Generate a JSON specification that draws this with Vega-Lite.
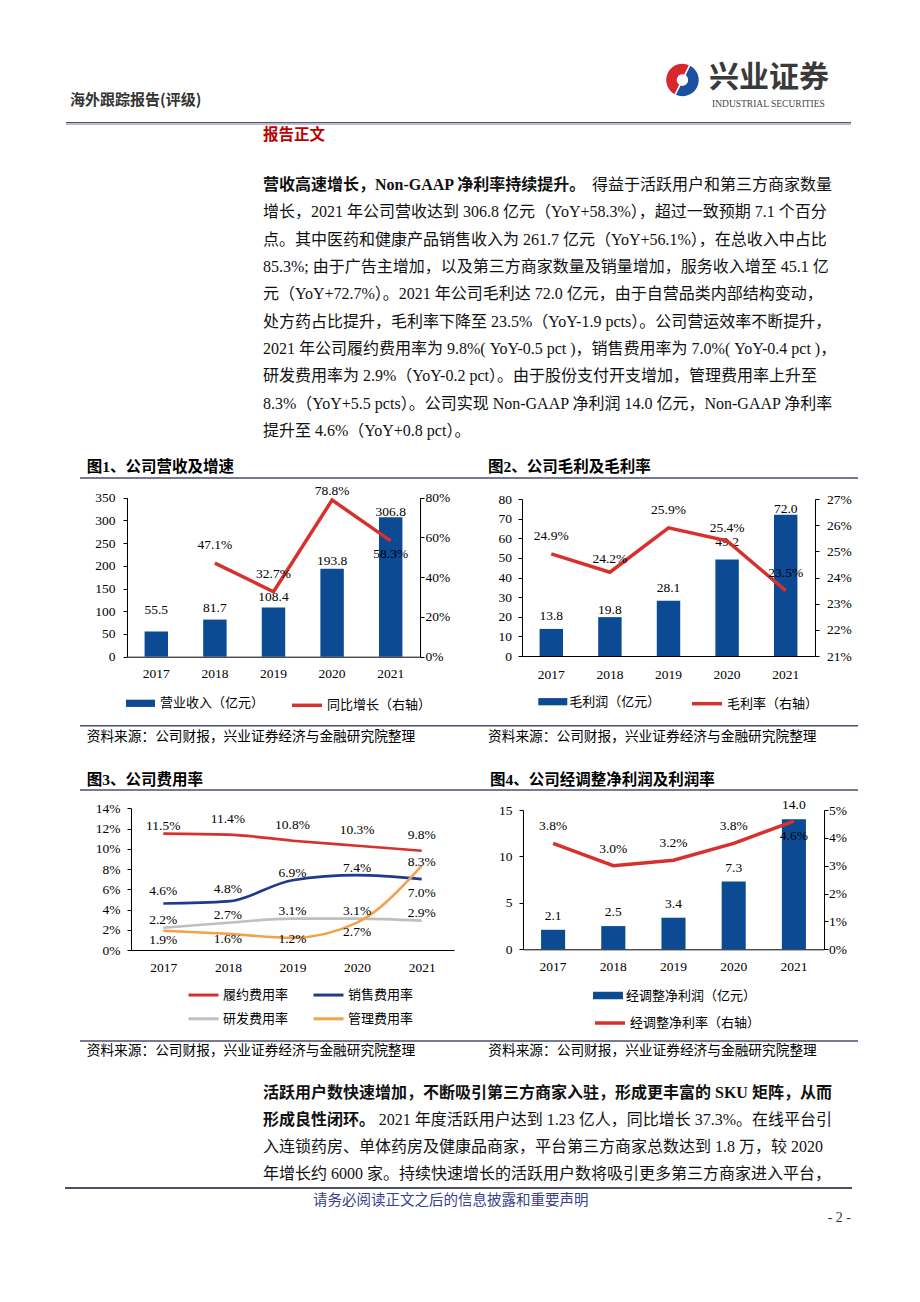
{
"$schema":"https://vega.github.io/schema/vega-lite/v6.json",
"background":"white",
"padding":0,
"spacing":0,
"bounds":"full",
"resolve":{"scale":{"fill":"independent","stroke":"independent","color":"independent"},"legend":{"fill":"independent","stroke":"independent","color":"independent"}},
"config":{
 "view":{"stroke":null},
 "axis":{"grid":false,"domainColor":"#000","tickColor":"#000","labelColor":"#000","labelFont":"Liberation Serif","labelFontSize":13.5,"tickSize":4,"domainWidth":1,"tickWidth":1},
 "legend":{"labelFont":"'Noto Sans CJK SC'","labelFontSize":13,"labelColor":"#000","padding":0}
},
"datasets":{
 "header":[{"item":"report_type","text":"海外跟踪报告(评级)"},{"item":"logo_cn","text":"兴业证券"},{"item":"logo_en","text":"INDUSTRIAL SECURITIES"},{"item":"section","text":"报告正文"}],
 "logo":[{"part":"红","share":1},{"part":"蓝","share":1}],
 "para1_lead":[{"line":0,"text":"营收高速增长，Non-GAAP 净利率持续提升。"}],
 "para1":[
  {"line":0,"text":"得益于活跃用户和第三方商家数量"},
  {"line":1,"text":"增长，2021 年公司营收达到 306.8 亿元（YoY+58.3%），超过一致预期 7.1 个百分"},
  {"line":2,"text":"点。其中医药和健康产品销售收入为 261.7 亿元（YoY+56.1%），在总收入中占比"},
  {"line":3,"text":"85.3%; 由于广告主增加，以及第三方商家数量及销量增加，服务收入增至 45.1 亿"},
  {"line":4,"text":"元（YoY+72.7%）。2021 年公司毛利达 72.0 亿元，由于自营品类内部结构变动，"},
  {"line":5,"text":"处方药占比提升，毛利率下降至 23.5%（YoY-1.9 pcts）。公司营运效率不断提升，"},
  {"line":6,"text":"2021 年公司履约费用率为 9.8%( YoY-0.5 pct )，销售费用率为 7.0%( YoY-0.4 pct )，"},
  {"line":7,"text":"研发费用率为 2.9%（YoY-0.2 pct）。由于股份支付开支增加，管理费用率上升至"},
  {"line":8,"text":"8.3%（YoY+5.5 pcts）。公司实现 Non-GAAP 净利润 14.0 亿元，Non-GAAP 净利率"},
  {"line":9,"text":"提升至 4.6%（YoY+0.8 pct）。"}
 ],
 "para2_lead":[{"line":0,"text":"活跃用户数快速增加，不断吸引第三方商家入驻，形成更丰富的 SKU 矩阵，从而"},{"line":1,"text":"形成良性闭环。"}],
 "para2":[
  {"line":1,"text":"2021 年度活跃用户达到 1.23 亿人，同比增长 37.3%。在线平台引"},
  {"line":2,"text":"入连锁药房、单体药房及健康品商家，平台第三方商家总数达到 1.8 万，较 2020"},
  {"line":3,"text":"年增长约 6000 家。持续快速增长的活跃用户数将吸引更多第三方商家进入平台，"}
 ],
 "figs":[{"fig":1,"title":"图1、公司营收及增速"},{"fig":2,"title":"图2、公司毛利及毛利率"},{"fig":3,"title":"图3、公司费用率"},{"fig":4,"title":"图4、公司经调整净利润及利润率"}],
 "source":[{"text":"资料来源：公司财报，兴业证券经济与金融研究院整理"}],
 "footer":[{"item":"notice","text":"请务必阅读正文之后的信息披露和重要声明"},{"item":"page","text":"- 2 -"}],
 "rev":[{"year":"2017","revenue":55.5,"growth":null},{"year":"2018","revenue":81.7,"growth":0.471},{"year":"2019","revenue":108.4,"growth":0.327},{"year":"2020","revenue":193.8,"growth":0.788},{"year":"2021","revenue":306.8,"growth":0.583}],
 "gp":[{"year":"2017","gross":13.8,"margin":0.249},{"year":"2018","gross":19.8,"margin":0.242},{"year":"2019","gross":28.1,"margin":0.259},{"year":"2020","gross":49.2,"margin":0.254},{"year":"2021","gross":72.0,"margin":0.235}],
 "exp":[
  {"year":"2017","item":"履约费用率","rate":0.115},{"year":"2017","item":"销售费用率","rate":0.046},{"year":"2017","item":"研发费用率","rate":0.022},{"year":"2017","item":"管理费用率","rate":0.019},
  {"year":"2018","item":"履约费用率","rate":0.114},{"year":"2018","item":"销售费用率","rate":0.048},{"year":"2018","item":"研发费用率","rate":0.027},{"year":"2018","item":"管理费用率","rate":0.016},
  {"year":"2019","item":"履约费用率","rate":0.108},{"year":"2019","item":"销售费用率","rate":0.069},{"year":"2019","item":"研发费用率","rate":0.031},{"year":"2019","item":"管理费用率","rate":0.012},
  {"year":"2020","item":"履约费用率","rate":0.103},{"year":"2020","item":"销售费用率","rate":0.074},{"year":"2020","item":"研发费用率","rate":0.031},{"year":"2020","item":"管理费用率","rate":0.027},
  {"year":"2021","item":"履约费用率","rate":0.098},{"year":"2021","item":"销售费用率","rate":0.070},{"year":"2021","item":"研发费用率","rate":0.029},{"year":"2021","item":"管理费用率","rate":0.083}
 ],
 "np":[{"year":"2017","profit":2.1,"margin":0.038},{"year":"2018","profit":2.5,"margin":0.030},{"year":"2019","profit":3.4,"margin":0.032},{"year":"2020","profit":7.3,"margin":0.038},{"year":"2021","profit":14.0,"margin":0.046}]
},
"vconcat":[
 {
  "width":920,"height":455,
  "layer":[
   {"data":{"name":"header"},"transform":[{"filter":"datum.item=='report_type'"}],
    "mark":{"type":"text","align":"left","baseline":"middle","font":"'Noto Sans CJK SC'","fontSize":15,"fontWeight":"bold","color":"#333"},
    "encoding":{"x":{"datum":70,"type":"quantitative","scale":{"domain":[0,920],"range":[0,920]},"axis":null},"y":{"datum":100,"type":"quantitative","scale":{"domain":[0,455],"range":[0,455]},"axis":null},"text":{"field":"text"}}},
   {"data":{"name":"logo"},
    "mark":{"type":"arc","outerRadius":17,"innerRadius":5,"stroke":"white","strokeWidth":1.5},
    "encoding":{"x":{"datum":682.5,"type":"quantitative","scale":{"domain":[0,920],"range":[0,920]},"axis":null},"y":{"datum":80,"type":"quantitative","scale":{"domain":[0,455],"range":[0,455]},"axis":null},
     "theta":{"field":"share","type":"quantitative","scale":{"range":[3.6,9.883]}},
     "color":{"field":"part","type":"nominal","scale":{"domain":["红","蓝"],"range":["#d7282f","#1d50a2"]},"legend":null}}},
   {"data":{"name":"header"},"transform":[{"filter":"datum.item=='logo_cn'"}],
    "mark":{"type":"text","align":"left","baseline":"middle","font":"'Noto Sans CJK SC'","fontSize":30,"fontWeight":"bold","color":"#3a3a3a"},
    "encoding":{"x":{"datum":709,"type":"quantitative","scale":{"domain":[0,920],"range":[0,920]},"axis":null},"y":{"datum":78,"type":"quantitative","scale":{"domain":[0,455],"range":[0,455]},"axis":null},"text":{"field":"text"}}},
   {"data":{"name":"header"},"transform":[{"filter":"datum.item=='logo_en'"}],
    "mark":{"type":"text","align":"left","baseline":"middle","font":"Liberation Serif","fontSize":9.5,"color":"#444"},
    "encoding":{"x":{"datum":712,"type":"quantitative","scale":{"domain":[0,920],"range":[0,920]},"axis":null},"y":{"datum":104,"type":"quantitative","scale":{"domain":[0,455],"range":[0,455]},"axis":null},"text":{"field":"text"}}},
   {"data":{"values":[{"rule":"header_dark"}]},
    "mark":{"type":"rule","color":"#55556f","strokeWidth":1.4},
    "encoding":{"x":{"datum":66,"type":"quantitative","scale":{"domain":[0,920],"range":[0,920]},"axis":null},"x2":{"datum":851},"y":{"datum":122.6,"type":"quantitative","scale":{"domain":[0,455],"range":[0,455]},"axis":null}}},
   {"data":{"values":[{"rule":"header_light"}]},
    "mark":{"type":"rule","color":"#a3a2c4","strokeWidth":1.2},
    "encoding":{"x":{"datum":66,"type":"quantitative","scale":{"domain":[0,920],"range":[0,920]},"axis":null},"x2":{"datum":851},"y":{"datum":124.1,"type":"quantitative","scale":{"domain":[0,455],"range":[0,455]},"axis":null}}},
   {"data":{"name":"header"},"transform":[{"filter":"datum.item=='section'"}],
    "mark":{"type":"text","align":"left","baseline":"middle","font":"'Noto Sans CJK SC'","fontSize":15.5,"fontWeight":"bold","color":"#c00000"},
    "encoding":{"x":{"datum":263,"type":"quantitative","scale":{"domain":[0,920],"range":[0,920]},"axis":null},"y":{"datum":135,"type":"quantitative","scale":{"domain":[0,455],"range":[0,455]},"axis":null},"text":{"field":"text"}}},
   {"data":{"name":"para1_lead"},
    "mark":{"type":"text","align":"left","baseline":"middle","font":"'Liberation Serif', 'Noto Sans CJK SC'","fontSize":16,"fontWeight":"bold","color":"#111"},
    "encoding":{"x":{"datum":263,"type":"quantitative","scale":{"domain":[0,920],"range":[0,920]},"axis":null},"y":{"field":"line","type":"quantitative","scale":{"domain":[0,9],"range":[185,431]},"axis":null},"text":{"field":"text"}}},
   {"data":{"name":"para1"},"transform":[{"filter":"datum.line != 0"}],
    "mark":{"type":"text","align":"left","baseline":"middle","font":"'Liberation Serif', 'Noto Sans CJK SC'","fontSize":16,"color":"#111"},
    "encoding":{"x":{"datum":263,"type":"quantitative","scale":{"domain":[0,920],"range":[0,920]},"axis":null},"y":{"field":"line","type":"quantitative","scale":{"domain":[0,9],"range":[185,431]},"axis":null},"text":{"field":"text"}}},
   {"data":{"name":"para1"},"transform":[{"filter":"datum.line == 0"}],
    "mark":{"type":"text","align":"right","baseline":"middle","font":"'Liberation Serif', 'Noto Sans CJK SC'","fontSize":16,"color":"#111"},
    "encoding":{"x":{"datum":832,"type":"quantitative","scale":{"domain":[0,920],"range":[0,920]},"axis":null},"y":{"field":"line","type":"quantitative","scale":{"domain":[0,9],"range":[185,431]},"axis":null},"text":{"field":"text"}}}
  ],
  "resolve":{"scale":{"y":"independent"}}
 },
 {
  "hconcat":[
   {
    "width":127,"height":295,
    "layer":[
     {"data":{"values":[{"rule":"title_rule"}]},"mark":{"type":"rule","color":"#4d4d6e","strokeWidth":1.5},
      "encoding":{"x":{"datum":80,"type":"quantitative","scale":{"domain":[0,920],"range":[0,920]},"axis":null},"x2":{"datum":858},"y":{"datum":23,"type":"quantitative","scale":{"domain":[0,295],"range":[0,295]},"axis":null}}},
     {"data":{"values":[{"rule":"source_rule"}]},"mark":{"type":"rule","color":"#4d4d6e","strokeWidth":1.5},
      "encoding":{"x":{"datum":80,"type":"quantitative","scale":{"domain":[0,920],"range":[0,920]},"axis":null},"x2":{"datum":858},"y":{"datum":270.7,"type":"quantitative","scale":{"domain":[0,295],"range":[0,295]},"axis":null}}},
     {"data":{"name":"figs"},"transform":[{"filter":"datum.fig==1"}],"mark":{"type":"text","align":"left","baseline":"middle","font":"'Liberation Serif', 'Noto Sans CJK SC'","fontSize":15.5,"fontWeight":"bold","color":"#000"},
      "encoding":{"x":{"datum":86.7,"type":"quantitative","scale":{"domain":[0,920],"range":[0,920]},"axis":null},"y":{"datum":12,"type":"quantitative","scale":{"domain":[0,295],"range":[0,295]},"axis":null},"text":{"field":"title"}}},
     {"data":{"name":"figs"},"transform":[{"filter":"datum.fig==2"}],"mark":{"type":"text","align":"left","baseline":"middle","font":"'Liberation Serif', 'Noto Sans CJK SC'","fontSize":15.5,"fontWeight":"bold","color":"#000"},
      "encoding":{"x":{"datum":488,"type":"quantitative","scale":{"domain":[0,920],"range":[0,920]},"axis":null},"y":{"datum":12,"type":"quantitative","scale":{"domain":[0,295],"range":[0,295]},"axis":null},"text":{"field":"title"}}},
     {"data":{"name":"source"},"mark":{"type":"text","align":"left","baseline":"middle","font":"'Noto Sans CJK SC'","fontSize":13.7,"color":"#000"},
      "encoding":{"x":{"datum":86.7,"type":"quantitative","scale":{"domain":[0,920],"range":[0,920]},"axis":null},"y":{"datum":281.7,"type":"quantitative","scale":{"domain":[0,295],"range":[0,295]},"axis":null},"text":{"field":"text"}}},
     {"data":{"name":"source"},"mark":{"type":"text","align":"left","baseline":"middle","font":"'Noto Sans CJK SC'","fontSize":13.7,"color":"#000"},
      "encoding":{"x":{"datum":488,"type":"quantitative","scale":{"domain":[0,920],"range":[0,920]},"axis":null},"y":{"datum":281.7,"type":"quantitative","scale":{"domain":[0,295],"range":[0,295]},"axis":null},"text":{"field":"text"}}}
    ]
   },
   {
    "width":293,"height":295,
    "data":{"name":"rev"},
    "encoding":{"x":{"field":"year","type":"ordinal","scale":{"type":"band","paddingInner":0.6,"paddingOuter":0.3},"axis":{"orient":"bottom","title":null,"offset":-93.3,"ticks":false,"labelPadding":10,"labelAngle":0}}},
    "layer":[
     {"encoding":{"y":{"field":"revenue","type":"quantitative","scale":{"domain":[0,350],"range":[201.7,42.7],"nice":false},"axis":{"orient":"left","title":null,"values":[0,50,100,150,200,250,300,350],"labelPadding":8}}},
      "layer":[
       {"mark":{"type":"bar"},"encoding":{"fill":{"datum":"营业收入（亿元）","type":"nominal","scale":{"range":["#0c4a94"]},"legend":{"title":null,"orient":"none","legendX":-1,"legendY":233.8,"symbolType":"M-1,-0.25H1V0.25H-1Z","symbolSize":841,"symbolStrokeWidth":0,"labelOffset":5}}}},
       {"transform":[{"filter":"datum.year=='2017'"}],"mark":{"type":"text","dy":-21,"font":"Liberation Serif","fontSize":13.5,"color":"#000"},"encoding":{"text":{"field":"revenue","type":"quantitative","format":".1f"}}},
       {"transform":[{"filter":"datum.year=='2018'"}],"mark":{"type":"text","dy":-12,"font":"Liberation Serif","fontSize":13.5,"color":"#000"},"encoding":{"text":{"field":"revenue","type":"quantitative","format":".1f"}}},
       {"transform":[{"filter":"datum.year=='2019'"}],"mark":{"type":"text","dy":-10,"font":"Liberation Serif","fontSize":13.5,"color":"#000"},"encoding":{"text":{"field":"revenue","type":"quantitative","format":".1f"}}},
       {"transform":[{"filter":"datum.year=='2020'"}],"mark":{"type":"text","dy":-8,"font":"Liberation Serif","fontSize":13.5,"color":"#000"},"encoding":{"text":{"field":"revenue","type":"quantitative","format":".1f"}}},
       {"transform":[{"filter":"datum.year=='2021'"}],"mark":{"type":"text","dy":-5,"font":"Liberation Serif","fontSize":13.5,"color":"#000"},"encoding":{"text":{"field":"revenue","type":"quantitative","format":".1f"}}}
      ]},
     {"transform":[{"filter":"datum.growth != null"}],
      "encoding":{"y":{"field":"growth","type":"quantitative","scale":{"domain":[0,0.8],"range":[201.7,42.7],"nice":false},"axis":{"orient":"right","title":null,"values":[0,0.2,0.4,0.6,0.8],"format":".0%","labelPadding":1}}},
      "layer":[
       {"mark":{"type":"line","strokeWidth":3.5},"encoding":{"stroke":{"datum":"同比增长（右轴）","type":"nominal","scale":{"range":["#d7312e"]},"legend":{"title":null,"orient":"none","legendX":163,"legendY":233.3,"symbolType":"stroke","symbolSize":900,"symbolStrokeWidth":3.5,"labelOffset":3}}}},
       {"transform":[{"filter":"datum.year=='2018' || datum.year=='2019'"}],"mark":{"type":"text","dy":-18,"font":"Liberation Serif","fontSize":13.5,"color":"#000"},"encoding":{"text":{"field":"growth","type":"quantitative","format":".1%"}}},
       {"transform":[{"filter":"datum.year=='2020'"}],"mark":{"type":"text","dy":-9,"font":"Liberation Serif","fontSize":13.5,"color":"#000"},"encoding":{"text":{"field":"growth","type":"quantitative","format":".1%"}}},
       {"transform":[{"filter":"datum.year=='2021'"}],"mark":{"type":"text","dy":13,"font":"Liberation Serif","fontSize":13.5,"color":"#000"},"encoding":{"text":{"field":"growth","type":"quantitative","format":".1%"}}}
      ]}
    ],
    "resolve":{"scale":{"y":"independent"}}
   },
   {"width":102,"height":295,"data":{"values":[]},"mark":"point"},
   {
    "width":293,"height":295,
    "data":{"name":"gp"},
    "encoding":{"x":{"field":"year","type":"ordinal","scale":{"type":"band","paddingInner":0.6,"paddingOuter":0.3},"axis":{"orient":"bottom","title":null,"offset":-94,"ticks":false,"labelPadding":11,"labelAngle":0}}},
    "layer":[
     {"encoding":{"y":{"field":"gross","type":"quantitative","scale":{"domain":[0,80],"range":[201,44],"nice":false},"axis":{"orient":"left","title":null,"values":[0,10,20,30,40,50,60,70,80],"labelPadding":6.5}}},
      "layer":[
       {"mark":{"type":"bar"},"encoding":{"fill":{"datum":"毛利润（亿元）","type":"nominal","scale":{"range":["#0c4a94"]},"legend":{"title":null,"orient":"none","legendX":16.3,"legendY":232.2,"symbolType":"M-1,-0.25H1V0.25H-1Z","symbolSize":841,"symbolStrokeWidth":0,"labelOffset":2}}}},
       {"transform":[{"filter":"datum.year=='2017' || datum.year=='2019'"}],"mark":{"type":"text","dy":-12.5,"font":"Liberation Serif","fontSize":13.5,"color":"#000"},"encoding":{"text":{"field":"gross","type":"quantitative","format":".1f"}}},
       {"transform":[{"filter":"datum.year=='2018'"}],"mark":{"type":"text","dy":-7,"font":"Liberation Serif","fontSize":13.5,"color":"#000"},"encoding":{"text":{"field":"gross","type":"quantitative","format":".1f"}}},
       {"transform":[{"filter":"datum.year=='2020'"}],"mark":{"type":"text","dy":-17,"font":"Liberation Serif","fontSize":13.5,"color":"#000"},"encoding":{"text":{"field":"gross","type":"quantitative","format":".1f"}}},
       {"transform":[{"filter":"datum.year=='2021'"}],"mark":{"type":"text","dy":-6,"font":"Liberation Serif","fontSize":13.5,"color":"#000"},"encoding":{"text":{"field":"gross","type":"quantitative","format":".1f"}}}
      ]},
     {"encoding":{"y":{"field":"margin","type":"quantitative","scale":{"domain":[0.21,0.27],"range":[201,44],"nice":false,"zero":false},"axis":{"orient":"right","title":null,"values":[0.21,0.22,0.23,0.24,0.25,0.26,0.27],"format":".0%","labelPadding":7.5}}},
      "layer":[
       {"mark":{"type":"line","strokeWidth":3.5},"encoding":{"stroke":{"datum":"毛利率（右轴）","type":"nominal","scale":{"range":["#d7312e"]},"legend":{"title":null,"orient":"none","legendX":168,"legendY":231.7,"symbolType":"stroke","symbolSize":900,"symbolStrokeWidth":3.5,"labelOffset":3}}}},
       {"transform":[{"filter":"datum.year=='2017' || datum.year=='2019' || datum.year=='2021'"}],"mark":{"type":"text","dy":-18,"font":"Liberation Serif","fontSize":13.5,"color":"#000"},"encoding":{"text":{"field":"margin","type":"quantitative","format":".1%"}}},
       {"transform":[{"filter":"datum.year=='2018' || datum.year=='2020'"}],"mark":{"type":"text","dy":-13,"font":"Liberation Serif","fontSize":13.5,"color":"#000"},"encoding":{"text":{"field":"margin","type":"quantitative","format":".1%"}}}
      ]}
    ],
    "resolve":{"scale":{"y":"independent"}}
   }
  ],
  "spacing":0,
  "bounds":"flush",
  "resolve":{"scale":{"fill":"independent","stroke":"independent"},"legend":{"fill":"independent","stroke":"independent"}}
 },
 {
  "hconcat":[
   {
    "width":131,"height":315,
    "layer":[
     {"data":{"values":[{"rule":"title_rule"}]},"mark":{"type":"rule","color":"#4d4d6e","strokeWidth":1.5},
      "encoding":{"x":{"datum":80,"type":"quantitative","scale":{"domain":[0,920],"range":[0,920]},"axis":null},"x2":{"datum":858},"y":{"datum":40,"type":"quantitative","scale":{"domain":[0,315],"range":[0,315]},"axis":null}}},
     {"data":{"values":[{"rule":"source_rule"}]},"mark":{"type":"rule","color":"#4d4d6e","strokeWidth":1.5},
      "encoding":{"x":{"datum":80,"type":"quantitative","scale":{"domain":[0,920],"range":[0,920]},"axis":null},"x2":{"datum":858},"y":{"datum":291,"type":"quantitative","scale":{"domain":[0,315],"range":[0,315]},"axis":null}}},
     {"data":{"name":"figs"},"transform":[{"filter":"datum.fig==3"}],"mark":{"type":"text","align":"left","baseline":"middle","font":"'Liberation Serif', 'Noto Sans CJK SC'","fontSize":15.5,"fontWeight":"bold","color":"#000"},
      "encoding":{"x":{"datum":86.7,"type":"quantitative","scale":{"domain":[0,920],"range":[0,920]},"axis":null},"y":{"datum":30,"type":"quantitative","scale":{"domain":[0,315],"range":[0,315]},"axis":null},"text":{"field":"title"}}},
     {"data":{"name":"figs"},"transform":[{"filter":"datum.fig==4"}],"mark":{"type":"text","align":"left","baseline":"middle","font":"'Liberation Serif', 'Noto Sans CJK SC'","fontSize":15.5,"fontWeight":"bold","color":"#000"},
      "encoding":{"x":{"datum":490,"type":"quantitative","scale":{"domain":[0,920],"range":[0,920]},"axis":null},"y":{"datum":30,"type":"quantitative","scale":{"domain":[0,315],"range":[0,315]},"axis":null},"text":{"field":"title"}}},
     {"data":{"name":"source"},"mark":{"type":"text","align":"left","baseline":"middle","font":"'Noto Sans CJK SC'","fontSize":13.7,"color":"#000"},
      "encoding":{"x":{"datum":86.7,"type":"quantitative","scale":{"domain":[0,920],"range":[0,920]},"axis":null},"y":{"datum":301,"type":"quantitative","scale":{"domain":[0,315],"range":[0,315]},"axis":null},"text":{"field":"text"}}},
     {"data":{"name":"source"},"mark":{"type":"text","align":"left","baseline":"middle","font":"'Noto Sans CJK SC'","fontSize":13.7,"color":"#000"},
      "encoding":{"x":{"datum":488.3,"type":"quantitative","scale":{"domain":[0,920],"range":[0,920]},"axis":null},"y":{"datum":301,"type":"quantitative","scale":{"domain":[0,315],"range":[0,315]},"axis":null},"text":{"field":"text"}}}
    ]
   },
   {
    "width":323,"height":315,
    "data":{"name":"exp"},
    "encoding":{
     "x":{"field":"year","type":"ordinal","scale":{"type":"point","padding":0.5},"axis":{"orient":"bottom","title":null,"offset":-115,"ticks":false,"labelPadding":10.5,"labelAngle":0}},
     "y":{"field":"rate","type":"quantitative","scale":{"domain":[0,0.14],"range":[200,58.3],"nice":false},"axis":{"orient":"left","title":null,"values":[0,0.02,0.04,0.06,0.08,0.1,0.12,0.14],"format":".0%","labelPadding":7}}
    },
    "layer":[
     {"mark":{"type":"line","interpolate":"monotone","strokeWidth":2.6},
      "encoding":{"stroke":{"field":"item","type":"nominal","scale":{"domain":["履约费用率","销售费用率","研发费用率","管理费用率"],"range":["#d7312e","#1f3a8a","#bfbfbf","#f2a24b"]},
       "legend":{"title":null,"orient":"none","legendX":56,"legendY":228.3,"columns":2,"direction":"horizontal","columnPadding":18,"rowPadding":-6,"symbolType":"stroke","symbolSize":900,"symbolStrokeWidth":3,"labelOffset":3}}}},
     {"transform":[{"filter":"datum.item=='履约费用率' && datum.year!='2017'"}],"mark":{"type":"text","dy":-16,"font":"Liberation Serif","fontSize":13.5,"color":"#000"},"encoding":{"text":{"field":"rate","type":"quantitative","format":".1%"}}},
     {"transform":[{"filter":"datum.item=='履约费用率' && datum.year=='2017'"}],"mark":{"type":"text","dy":-8,"font":"Liberation Serif","fontSize":13.5,"color":"#000"},"encoding":{"text":{"field":"rate","type":"quantitative","format":".1%"}}},
     {"transform":[{"filter":"datum.item=='销售费用率' && (datum.year=='2017' || datum.year=='2018')"}],"mark":{"type":"text","dy":-12,"font":"Liberation Serif","fontSize":13.5,"color":"#000"},"encoding":{"text":{"field":"rate","type":"quantitative","format":".1%"}}},
     {"transform":[{"filter":"datum.item=='销售费用率' && (datum.year=='2019' || datum.year=='2020')"}],"mark":{"type":"text","dy":-7,"font":"Liberation Serif","fontSize":13.5,"color":"#000"},"encoding":{"text":{"field":"rate","type":"quantitative","format":".1%"}}},
     {"transform":[{"filter":"datum.item=='销售费用率' && datum.year=='2021'"}],"mark":{"type":"text","dy":14,"font":"Liberation Serif","fontSize":13.5,"color":"#000"},"encoding":{"text":{"field":"rate","type":"quantitative","format":".1%"}}},
     {"transform":[{"filter":"datum.item=='研发费用率'"}],"mark":{"type":"text","dy":-8,"font":"Liberation Serif","fontSize":13.5,"color":"#000"},"encoding":{"text":{"field":"rate","type":"quantitative","format":".1%"}}},
     {"transform":[{"filter":"datum.item=='管理费用率' && (datum.year=='2017' || datum.year=='2020')"}],"mark":{"type":"text","dy":9,"font":"Liberation Serif","fontSize":13.5,"color":"#000"},"encoding":{"text":{"field":"rate","type":"quantitative","format":".1%"}}},
     {"transform":[{"filter":"datum.item=='管理费用率' && datum.year=='2018'"}],"mark":{"type":"text","dy":5,"font":"Liberation Serif","fontSize":13.5,"color":"#000"},"encoding":{"text":{"field":"rate","type":"quantitative","format":".1%"}}},
     {"transform":[{"filter":"datum.item=='管理费用率' && datum.year=='2019'"}],"mark":{"type":"text","dy":1,"font":"Liberation Serif","fontSize":13.5,"color":"#000"},"encoding":{"text":{"field":"rate","type":"quantitative","format":".1%"}}},
     {"transform":[{"filter":"datum.item=='管理费用率' && datum.year=='2021'"}],"mark":{"type":"text","dy":-4,"font":"Liberation Serif","fontSize":13.5,"color":"#000"},"encoding":{"text":{"field":"rate","type":"quantitative","format":".1%"}}}
    ]
   },
   {"width":69,"height":315,"data":{"values":[]},"mark":"point"},
   {
    "width":301,"height":315,
    "data":{"name":"np"},
    "encoding":{"x":{"field":"year","type":"ordinal","scale":{"type":"band","paddingInner":0.6,"paddingOuter":0.3},"axis":{"orient":"bottom","title":null,"offset":-115.7,"ticks":false,"labelPadding":10.5,"labelAngle":0}}},
    "layer":[
     {"encoding":{"y":{"field":"profit","type":"quantitative","scale":{"domain":[0,15],"range":[199.3,60],"nice":false},"axis":{"orient":"left","title":null,"values":[0,5,10,15],"labelPadding":7}}},
      "layer":[
       {"mark":{"type":"bar"},"encoding":{"fill":{"datum":"经调整净利润（亿元）","type":"nominal","scale":{"range":["#0c4a94"]},"legend":{"title":null,"orient":"none","legendX":70,"legendY":230.5,"symbolType":"M-1,-0.25H1V0.25H-1Z","symbolSize":900,"symbolStrokeWidth":0,"labelOffset":3}}}},
       {"mark":{"type":"text","dy":-14,"font":"Liberation Serif","fontSize":13.5,"color":"#000"},"encoding":{"text":{"field":"profit","type":"quantitative","format":".1f"}}}
      ]},
     {"encoding":{"y":{"field":"margin","type":"quantitative","scale":{"domain":[0,0.05],"range":[199.3,60],"nice":false},"axis":{"orient":"right","title":null,"values":[0,0.01,0.02,0.03,0.04,0.05],"format":".0%","labelPadding":0.5}}},
      "layer":[
       {"mark":{"type":"line","strokeWidth":3.5},"encoding":{"stroke":{"datum":"经调整净利率（右轴）","type":"nominal","scale":{"range":["#d7312e"]},"legend":{"title":null,"orient":"none","legendX":70,"legendY":256,"symbolType":"stroke","symbolSize":900,"symbolStrokeWidth":3.5,"labelOffset":3}}}},
       {"transform":[{"filter":"datum.year!='2021'"}],"mark":{"type":"text","dy":-17,"font":"Liberation Serif","fontSize":13.5,"color":"#000"},"encoding":{"text":{"field":"margin","type":"quantitative","format":".1%"}}},
       {"transform":[{"filter":"datum.year=='2021'"}],"mark":{"type":"text","dy":15,"font":"Liberation Serif","fontSize":13.5,"color":"#000"},"encoding":{"text":{"field":"margin","type":"quantitative","format":".1%"}}}
      ]}
    ],
    "resolve":{"scale":{"y":"independent"}}
   }
  ],
  "spacing":0,
  "bounds":"flush",
  "resolve":{"scale":{"fill":"independent","stroke":"independent"},"legend":{"fill":"independent","stroke":"independent"}}
 },
 {
  "width":920,"height":237,
  "layer":[
   {"data":{"name":"para2_lead"},
    "mark":{"type":"text","align":"left","baseline":"middle","font":"'Liberation Serif', 'Noto Sans CJK SC'","fontSize":16,"fontWeight":"bold","color":"#111"},
    "encoding":{"x":{"datum":263,"type":"quantitative","scale":{"domain":[0,920],"range":[0,920]},"axis":null},"y":{"field":"line","type":"quantitative","scale":{"domain":[0,3],"range":[28,109]},"axis":null},"text":{"field":"text"}}},
   {"data":{"name":"para2"},"transform":[{"filter":"datum.line != 1"}],
    "mark":{"type":"text","align":"left","baseline":"middle","font":"'Liberation Serif', 'Noto Sans CJK SC'","fontSize":16,"color":"#111"},
    "encoding":{"x":{"datum":263,"type":"quantitative","scale":{"domain":[0,920],"range":[0,920]},"axis":null},"y":{"field":"line","type":"quantitative","scale":{"domain":[0,3],"range":[28,109]},"axis":null},"text":{"field":"text"}}},
   {"data":{"name":"para2"},"transform":[{"filter":"datum.line == 1"}],
    "mark":{"type":"text","align":"right","baseline":"middle","font":"'Liberation Serif', 'Noto Sans CJK SC'","fontSize":16,"color":"#111"},
    "encoding":{"x":{"datum":832,"type":"quantitative","scale":{"domain":[0,920],"range":[0,920]},"axis":null},"y":{"field":"line","type":"quantitative","scale":{"domain":[0,3],"range":[28,109]},"axis":null},"text":{"field":"text"}}},
   {"data":{"values":[{"rule":"footer"}]},
    "mark":{"type":"rule","color":"#4d4d6e","strokeWidth":2},
    "encoding":{"x":{"datum":65,"type":"quantitative","scale":{"domain":[0,920],"range":[0,920]},"axis":null},"x2":{"datum":852},"y":{"datum":123,"type":"quantitative","scale":{"domain":[0,237],"range":[0,237]},"axis":null}}},
   {"data":{"name":"footer"},"transform":[{"filter":"datum.item=='notice'"}],
    "mark":{"type":"text","align":"left","baseline":"middle","font":"'Noto Sans CJK SC'","fontSize":14.5,"color":"#3b3f8f"},
    "encoding":{"x":{"datum":313,"type":"quantitative","scale":{"domain":[0,920],"range":[0,920]},"axis":null},"y":{"datum":136,"type":"quantitative","scale":{"domain":[0,237],"range":[0,237]},"axis":null},"text":{"field":"text"}}},
   {"data":{"name":"footer"},"transform":[{"filter":"datum.item=='page'"}],
    "mark":{"type":"text","align":"right","baseline":"middle","font":"Liberation Serif","fontSize":14,"color":"#333"},
    "encoding":{"x":{"datum":851,"type":"quantitative","scale":{"domain":[0,920],"range":[0,920]},"axis":null},"y":{"datum":153,"type":"quantitative","scale":{"domain":[0,237],"range":[0,237]},"axis":null},"text":{"field":"text"}}}
  ],
  "resolve":{"scale":{"y":"independent"}}
 }
]
}
